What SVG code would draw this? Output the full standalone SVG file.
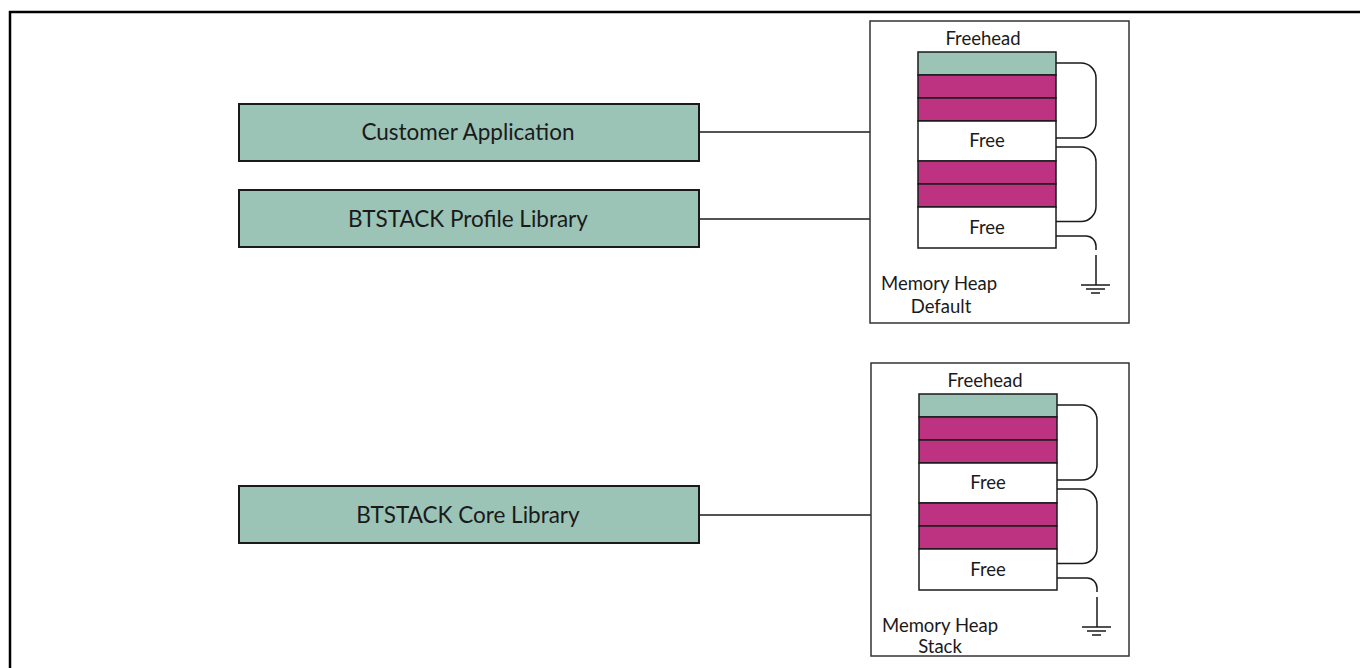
<svg xmlns="http://www.w3.org/2000/svg" width="1360" height="668" viewBox="0 0 1360 668">
  <style>
    .lbl { font-family: Lato, "Liberation Sans", sans-serif; fill: #1a1a1a; }
    .big { font-size: 22.5px; text-anchor: middle; }
    .sm { font-size: 18.5px; }
    .mid { text-anchor: middle; }
    .lib { fill: #9bc3b6; stroke: #1a1a1a; stroke-width: 2; }
    .heap { fill: #ffffff; stroke: #333333; stroke-width: 1.5; }
    .head { fill: #9bc3b6; stroke: #1a1a1a; stroke-width: 1.5; }
    .used { fill: #be3282; stroke: #1a1a1a; stroke-width: 1.5; }
    .free { fill: #ffffff; stroke: #1a1a1a; stroke-width: 1.5; }
    .wire { fill: none; stroke: #1a1a1a; stroke-width: 1.5; }
  </style>
  <defs>
    <!-- one heap: free-list of blocks with links and ground terminator -->
    <g id="heapStack">
      <rect class="head" x="0" y="0" width="138" height="23"/>
      <rect class="used" x="0" y="23" width="138" height="23"/>
      <rect class="used" x="0" y="46" width="138" height="23"/>
      <rect class="free" x="0" y="69" width="138" height="40"/>
      <rect class="used" x="0" y="109" width="138" height="23"/>
      <rect class="used" x="0" y="132" width="138" height="23"/>
      <rect class="free" x="0" y="155" width="138" height="41"/>
      <path class="wire" d="M138,11 H163 a15,15 0 0 1 15,15 V71 a15,15 0 0 1 -15,15 H138"/>
      <path class="wire" d="M138,95 H163 a15,15 0 0 1 15,15 V154.5 a15,15 0 0 1 -15,15 H138"/>
      <path class="wire" d="M138,184 H168 a10,10 0 0 1 10,10 V198 M178,203 V233"/>
      <path class="wire" d="M163,233 H192 M168,237 H187 M173,241 H182"/>
    </g>
  </defs>

  <!-- page frame -->
  <path d="M10,668 V12 H1360" fill="none" stroke="#000" stroke-width="2.5"/>

  <g id="connectors">
    <line class="wire" x1="699" y1="132" x2="870" y2="132"/>
    <line class="wire" x1="699" y1="219" x2="870" y2="219"/>
    <line class="wire" x1="699" y1="515" x2="871" y2="515"/>
  </g>

  <g id="customer-application">
    <rect class="lib" x="239" y="104" width="460" height="57"/>
    <text class="lbl big" x="468" y="140">Customer Application</text>
  </g>

  <g id="profile-library">
    <rect class="lib" x="239" y="190" width="460" height="57"/>
    <text class="lbl big" x="468" y="227">BTSTACK Profile Library</text>
  </g>

  <g id="core-library">
    <rect class="lib" x="239" y="486" width="460" height="57"/>
    <text class="lbl big" x="468" y="523">BTSTACK Core Library</text>
  </g>

  <g id="heap-default">
    <rect class="heap" x="870" y="21" width="259" height="302"/>
    <text class="lbl sm mid" x="983" y="45">Freehead</text>
    <g transform="translate(918,52)"><use href="#heapStack"/></g>
    <text class="lbl sm mid" x="987" y="147">Free</text>
    <text class="lbl sm mid" x="987" y="234">Free</text>
    <text class="lbl sm" x="881" y="290">Memory Heap</text>
    <text class="lbl sm mid" x="941" y="313">Default</text>
  </g>

  <g id="heap-stack">
    <rect class="heap" x="871" y="363" width="258" height="293"/>
    <text class="lbl sm mid" x="985" y="387">Freehead</text>
    <g transform="translate(919,394)"><use href="#heapStack"/></g>
    <text class="lbl sm mid" x="988" y="489">Free</text>
    <text class="lbl sm mid" x="988" y="576">Free</text>
    <text class="lbl sm" x="882" y="632">Memory Heap</text>
    <text class="lbl sm mid" x="940" y="653">Stack</text>
  </g>
</svg>
